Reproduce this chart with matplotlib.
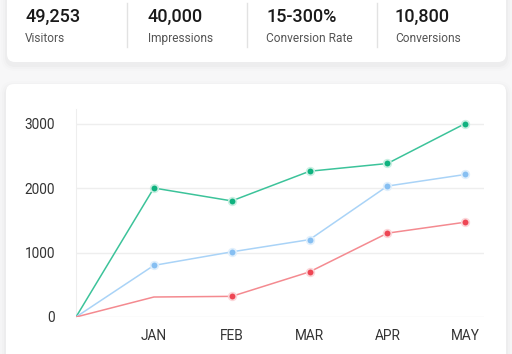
import matplotlib.pyplot as plt
from matplotlib.patches import FancyBboxPatch

plt.rcParams['font.family'] = ['Roboto', 'DejaVu Sans']

# summary cards
stat_values = ["49,253", "40,000", "15-300%", "10,800"]
stat_labels = ["Visitors", "Impressions", "Conversion Rate", "Conversions"]

# line chart
months = ["", "JAN", "FEB", "MAR", "APR", "MAY"]
green = [0, 2000, 1800, 2260, 2380, 3000]
blue = [0, 800, 1010, 1200, 2030, 2210]
red = [0, 310, 320, 700, 1300, 1470]

W, H = 512, 354
fig = plt.figure(figsize=(W / 100, H / 100), dpi=100)
fig.patch.set_facecolor('#f7f7f8')

# background layer in pixel coords
bg = fig.add_axes([0, 0, 1, 1])
bg.set_xlim(0, W)
bg.set_ylim(H, 0)
bg.axis('off')


def card(x0, y0, x1, y1):
    for i, a in enumerate([0.018, 0.013, 0.009]):
        g = 2 + i * 2
        bg.add_patch(FancyBboxPatch((x0 - g, y0 - g + 3), x1 - x0 + 2 * g, y1 - y0 + 2 * g,
                                    boxstyle="round,pad=0,rounding_size=%d" % (8 + g),
                                    fc='black', ec='none', alpha=a))
    bg.add_patch(FancyBboxPatch((x0, y0), x1 - x0, y1 - y0,
                                boxstyle="round,pad=0,rounding_size=8",
                                fc='white', ec='none'))


card(7, -20, 506, 62)
card(6, 84, 506, 380)

col_x = [25, 148, 266, 395]
for i in range(4):
    bg.text(col_x[i], 17, stat_values[i], fontsize=13, fontweight='medium',
            color='#1a1a1a', va='center', ha='left')
    bg.text(col_x[i], 38.5, stat_labels[i], fontsize=8.6, color='#555555',
            va='center', ha='left')
for xd in [127, 247, 377]:
    bg.plot([xd, xd], [3, 47], color='#e2e2e2', lw=1)

# chart axes
ax = fig.add_axes([76 / W, 1 - 317 / H, (484 - 76) / W, (317 - 109) / H])
ax.patch.set_alpha(0)
x = list(range(len(months)))


def series(vals, line_c, dot_c, halo_c, skip=()):
    ax.plot(x, vals, color=line_c, lw=1.1, zorder=3, solid_capstyle='round')
    px = [x[i] for i in range(1, len(vals)) if i not in skip]
    py = [vals[i] for i in range(1, len(vals)) if i not in skip]
    ax.scatter(px, py, s=45, color=halo_c, zorder=4, linewidths=0)
    ax.scatter(px, py, s=18, color=dot_c, zorder=5, linewidths=0)


series(green, '#3cc39a', '#0fb27f', '#c9efe2')
series(blue, '#a9d3f7', '#86bff2', '#e0effc')
series(red, '#f48a90', '#ee4654', '#fbd6d9', skip=(1,))

ax.set_xlim(0, 5.24)
ax.set_ylim(0, 3225)
ax.set_yticks([0, 1000, 2000, 3000])
ax.set_xticks(x[1:])
ax.set_xticklabels(months[1:])
ax.grid(axis='y', color='#eeeeee', lw=1)
ax.set_axisbelow(True)
for s in ['top', 'right', 'bottom']:
    ax.spines[s].set_visible(False)
ax.spines['left'].set_color('#eeeeee')
ax.tick_params(length=0, labelsize=9.8, colors='#333333')
ax.tick_params(axis='y', pad=15)
ax.tick_params(axis='x', pad=9)

fig.savefig('out.png', dpi=100)
